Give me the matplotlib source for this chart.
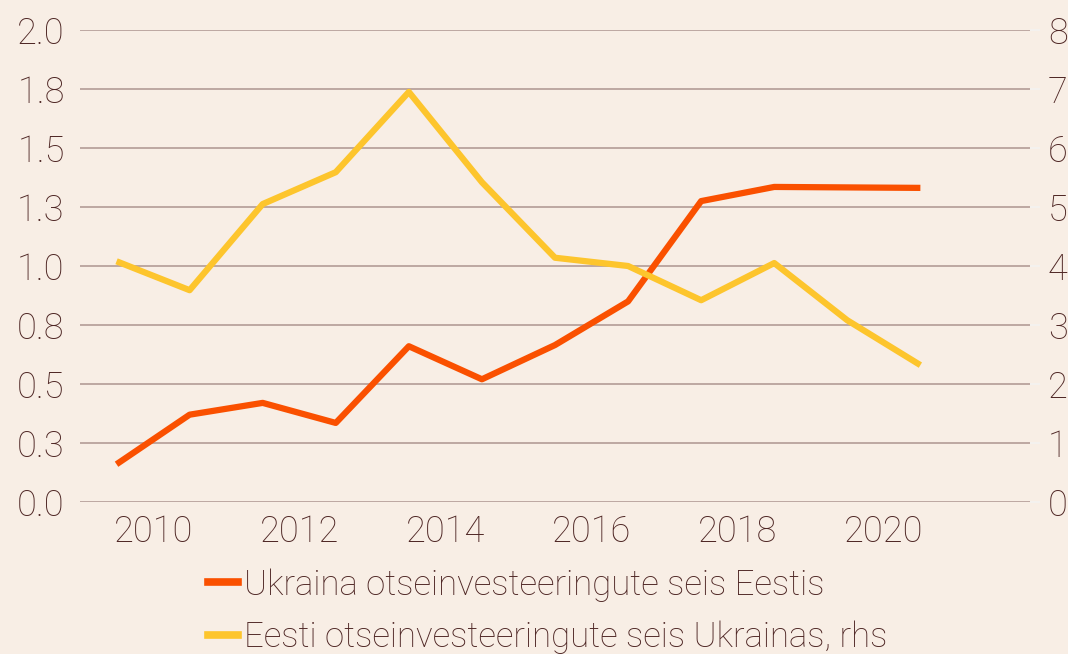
import matplotlib
matplotlib.use("Agg")
import matplotlib.pyplot as plt
from matplotlib.lines import Line2D

# ---- data ----
years = [2009.5, 2010.5, 2011.5, 2012.5, 2013.5, 2014.5, 2015.5, 2016.5, 2017.5, 2018.5, 2019.5, 2020.5]
ukraina_in_eesti = [0.16, 0.37, 0.42, 0.335, 0.66, 0.52, 0.665, 0.85, 1.275, 1.335, 1.333, 1.331]
eesti_in_ukraina = [4.08, 3.59, 5.05, 5.59, 6.95, 5.42, 4.14, 4.0, 3.42, 4.05, 3.08, 2.32]
x_ticks = [2010, 2012, 2014, 2016, 2018, 2020]
left_ticks = [0.0, 0.25, 0.5, 0.75, 1.0, 1.25, 1.5, 1.75, 2.0]
left_labels = ["0.0", "0.3", "0.5", "0.8", "1.0", "1.3", "1.5", "1.8", "2.0"]
right_ticks = [0, 1, 2, 3, 4, 5, 6, 7, 8]
series_names = ["Ukraina otseinvesteeringute seis Eestis",
                "Eesti otseinvesteeringute seis Ukrainas, rhs"]

# ---- style ----
bg = "#F8EEE5"
txt = "#4E2624"
grid = "#B39C96"
c_orange = "#FA5000"
c_yellow = "#FDC52D"
plt.rcParams["font.family"] = ["Roboto", "DejaVu Sans"]
plt.rcParams["font.weight"] = "light"

W, H = 1068, 654
fig = plt.figure(figsize=(W / 100, H / 100), dpi=100, facecolor=bg)
ax = fig.add_axes([80 / W, 1 - 502 / H, (1030 - 80) / W, (502 - 30) / H])
ax.set_facecolor(bg)
ax2 = ax.twinx()

ax.plot(years, ukraina_in_eesti, color=c_orange, lw=4.5, solid_capstyle="butt", zorder=3)
ax2.plot(years, eesti_in_ukraina, color=c_yellow, lw=4.5, solid_capstyle="butt", zorder=3)

ax.set_xlim(2009, 2022)
ax.set_ylim(0, 2.0)
ax2.set_ylim(0, 8)

ax.set_yticks(left_ticks)
ax.set_yticklabels(left_labels)
ax2.set_yticks(right_ticks)
ax.set_xticks(x_ticks)

for s in list(ax.spines.values()) + list(ax2.spines.values()):
    s.set_visible(False)

ax.grid(axis="y", color=grid, lw=1.2, zorder=0)
ax.set_axisbelow(True)

ax.tick_params(axis="y", length=0, pad=11, labelsize=26, labelcolor=txt)
ax.tick_params(axis="x", length=0, pad=9, labelsize=26, labelcolor=txt)
ax2.tick_params(axis="y", length=7, width=1.2, color="#F4F2F0", pad=6, labelsize=26, labelcolor=txt)

for lab in ax.get_xticklabels() + ax.get_yticklabels() + ax2.get_yticklabels():
    lab.set_fontweight("light")

handles = [Line2D([0], [0], color=c_orange, lw=5.5),
           Line2D([0], [0], color=c_yellow, lw=5.5)]
leg = fig.legend(handles, series_names, loc="upper left",
                 bbox_to_anchor=(208 / W, 1 - 568 / H), frameon=False,
                 fontsize=25, handlelength=0.85, handletextpad=0.2,
                 labelspacing=0.55, borderaxespad=0, borderpad=0)
for t in leg.get_texts():
    t.set_color(txt)
    t.set_fontweight("light")

fig.savefig("out.png", dpi=100, facecolor=bg)
